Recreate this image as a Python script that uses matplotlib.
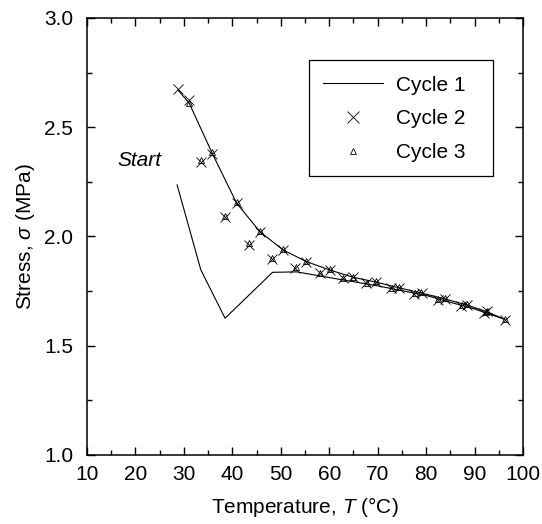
import numpy as np
import matplotlib.pyplot as plt
from matplotlib.ticker import MultipleLocator
from matplotlib.patches import Rectangle

plt.rcParams['font.family'] = ['Liberation Sans', 'DejaVu Sans']
plt.rcParams['mathtext.fontset'] = 'custom'
plt.rcParams['mathtext.it'] = 'Liberation Sans:italic'
plt.rcParams['mathtext.rm'] = 'Liberation Sans'

# Cycle 1: heating (start) then cooling back
cycle1_T = [28.6, 33.5, 38.5, 48.3, 53.3, 60.0, 70.0, 80.0, 90.0, 96.3,
            92.6, 88.5, 83.9, 79.1, 74.4, 69.7, 65.0, 60.2, 55.3, 50.5,
            45.7, 40.9, 35.9, 31.1, 28.8]
cycle1_s = [2.236, 1.847, 1.626, 1.836, 1.838, 1.812, 1.774, 1.730, 1.668, 1.620,
            1.655, 1.686, 1.714, 1.741, 1.765, 1.791, 1.813, 1.846, 1.885, 1.938,
            2.022, 2.152, 2.378, 2.610, 2.670]

# Cycle 2 (x markers)
cycle2_T = [33.5, 38.5, 43.4, 48.1, 53.0, 58.0, 62.8, 67.6, 72.7, 77.5, 82.4,
            87.2, 92.0, 96.3, 92.6, 88.5, 83.9, 79.1, 74.4, 69.7, 65.0, 60.2,
            55.3, 50.5, 45.7, 40.9, 35.9, 31.1, 28.8]
cycle2_s = [2.342, 2.088, 1.962, 1.895, 1.856, 1.832, 1.808, 1.786, 1.763, 1.737, 1.710,
            1.683, 1.652, 1.620, 1.657, 1.687, 1.715, 1.742, 1.765, 1.792, 1.813, 1.846,
            1.885, 1.938, 2.022, 2.152, 2.378, 2.625, 2.675]

# Cycle 3 (triangles)
cycle3_T = [33.6, 38.5, 43.5, 48.2, 53.1, 58.1, 62.9, 67.8, 72.9, 77.7, 82.5,
            87.3, 92.3, 96.3, 92.6, 88.4, 83.8, 79.0, 74.3, 69.6, 65.0, 60.1,
            55.3, 50.5, 45.7, 40.9, 35.9, 31.1]
cycle3_s = [2.350, 2.095, 1.968, 1.900, 1.860, 1.835, 1.810, 1.789, 1.766, 1.740, 1.713,
            1.686, 1.655, 1.622, 1.660, 1.690, 1.718, 1.745, 1.768, 1.795, 1.816, 1.850,
            1.888, 1.942, 2.026, 2.157, 2.385, 2.610]

FS = 15

fig = plt.figure(figsize=(5.42, 5.24), dpi=100)
ax = fig.add_axes([0.1605, 0.1317, 0.8045, 0.834])

ax.plot(cycle1_T, cycle1_s, color='black', lw=0.8, label='Cycle 1')
ax.plot(cycle2_T, cycle2_s, ls='none', marker='x', ms=7, mew=0.6,
        color='black', label='Cycle 2')
ax.plot(cycle3_T, cycle3_s, ls='none', marker='^', ms=4, mew=0.6,
        mfc='none', mec='black', label='Cycle 3')

ax.text(16.3, 2.35, 'Start', fontsize=FS, style='italic', va='center', ha='left')

ax.set_xlim(10, 100)
ax.set_ylim(1.0, 3.0)
ax.xaxis.set_major_locator(MultipleLocator(10))
ax.xaxis.set_minor_locator(MultipleLocator(5))
ax.yaxis.set_major_locator(MultipleLocator(0.5))
ax.yaxis.set_minor_locator(MultipleLocator(0.25))
ax.yaxis.set_major_formatter(plt.FormatStrFormatter('%.1f'))
ax.tick_params(which='both', direction='in', top=True, right=True,
               labelsize=FS, width=1.0)
ax.tick_params(which='major', length=6)
ax.tick_params(which='minor', length=3.5)
ax.tick_params(axis='x', which='major', pad=7)
ax.tick_params(axis='y', which='major', pad=10)
for sp in ax.spines.values():
    sp.set_linewidth(1.1)

ax.set_xlabel('Temperature, $T$ (°C)', fontsize=FS, labelpad=8)
ax.set_ylabel('Stress, $\\sigma$ (MPa)', fontsize=FS, labelpad=5)

leg = ax.legend(loc='upper left', bbox_to_anchor=(0.541, 0.868), fontsize=FS,
                frameon=False, handlelength=2.9, handletextpad=0.6,
                borderpad=0, labelspacing=0.7, borderaxespad=0)
leg.legend_handles[1].set_markersize(9)
ax.add_patch(Rectangle((0.509, 0.638), 0.422, 0.266, transform=ax.transAxes,
                       fill=False, edgecolor='black', lw=0.9, zorder=5))

fig.savefig('out.png', dpi=100)
